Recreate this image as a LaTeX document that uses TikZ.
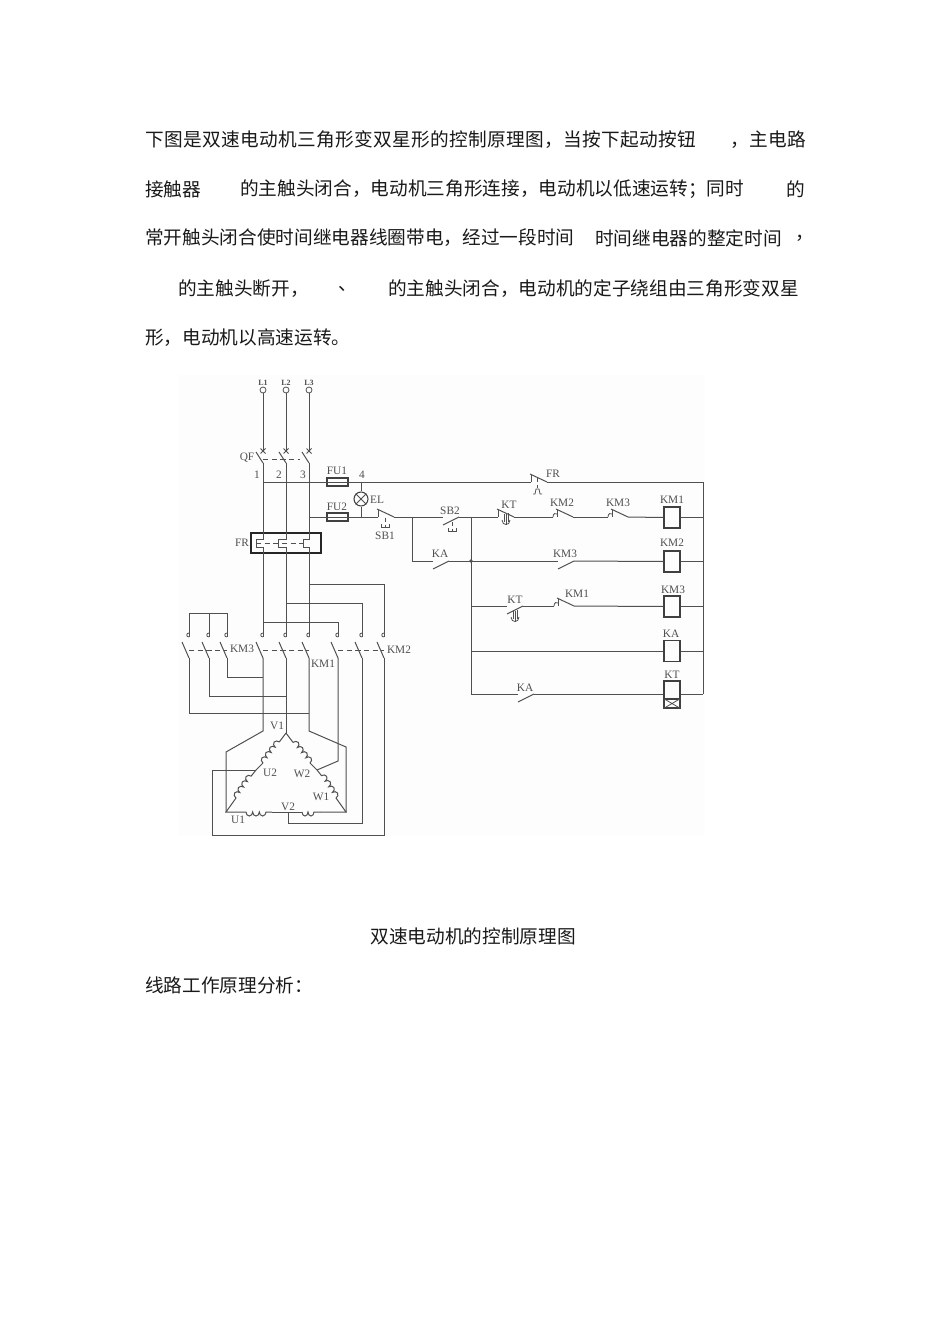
\documentclass[tikz,border=0pt]{standalone}
\usepackage{fontspec}
\setmainfont{Liberation Serif}
\newfontfamily\cjk{Noto Sans CJK SC}
\newfontfamily\cjkwide[LetterSpace=1.9]{Noto Sans CJK SC}
\usepackage{tikz}
\usetikzlibrary{calc,decorations.pathmorphing}
\definecolor{inkgray}{HTML}{505050}
\tikzstyle{para} = [anchor=west, inner sep=0pt, text=black!90, font=\cjk\fontsize{14pt}{14pt}\selectfont]
\tikzstyle{parawide} = [para, font=\cjkwide\fontsize{14pt}{14pt}\selectfont]
\tikzstyle{wire} = [line width=0.75pt, draw=inkgray]
\tikzstyle{thin wire} = [line width=0.6pt, draw=inkgray]
\tikzstyle{link} = [line width=0.6pt, draw=inkgray, dash pattern=on 4pt off 2.5pt]
\tikzstyle{winding} = [wire, decorate, decoration={bumps, segment length=10pt, amplitude=3pt}]
\tikzstyle{tag} = [inner sep=0pt, text=inkgray, font=\fontsize{8.5pt}{8.5pt}\selectfont]
\tikzstyle{small tag} = [tag, font=\bfseries\fontsize{6pt}{6pt}\selectfont]
\tikzstyle{terminal} = [circle, draw=inkgray, line width=0.6pt, inner sep=0pt, minimum size=4.5pt]
\tikzstyle{relay} = [rectangle, draw=black!75, line width=0.8pt, inner sep=0pt, minimum width=12pt, minimum height=15.75pt]
\tikzstyle{fuse} = [rectangle, draw=black!75, line width=0.8pt, inner sep=0pt, minimum width=15.75pt, minimum height=6pt]
% normally open contact, wire ends at a and b
\newcommand{\nocontact}[3]{
    \coordinate (#1-a) at (#2,#3);
    \coordinate (#1-b) at (#2+16,#3);
    \draw [wire] (#2,#3+8) -- (#1-b);
}
% normally closed contact
\newcommand{\nccontact}[3]{
    \coordinate (#1-a) at (#2,#3);
    \coordinate (#1-b) at (#2+16,#3);
    \draw [wire] (#1-a) -- (#2,#3-7);
    \draw [wire] (#2-1,#3-8) -- (#1-b);
}
% the small hook in front of an auxiliary contact
\newcommand{\hook}[3]{
    \coordinate (#1-h) at (#2-4,#3);
    \draw [thin wire] (#1-h) .. controls (#2-4,#3-4) and (#2-1,#3-4) .. (#2,#3-3);
}
% delay rod under a contact of the time relay
\newcommand{\delayrod}[2]{
    \draw [thin wire] (#1-2,#2) -- (#1-2,#2+8) (#1+2,#2-1) -- (#1+2,#2+8) (#1,#2) -- (#1,#2+11);
    \draw [thin wire] (#1-4,#2+6) .. controls (#1-4,#2+12) and (#1+4,#2+12) .. (#1+4,#2+6);
}
% push button foot
\newcommand{\pushfoot}[2]{
    \draw [thin wire, densely dashed] (#1,#2-6) -- (#1,#2+3);
    \draw [thin wire] (#1-4,#2) -- (#1-4,#2+3) -- (#1+4,#2+3) -- (#1+4,#2);
}

\begin{document}
\begin{tikzpicture}[x=0.75pt,y=-0.75pt]
    \useasboundingbox (0,0) rectangle (950,1344);
    \fill [black!0.8] (178,375) rectangle (705,836);

    % text
    \node (line1) [parawide] at (145,139.5) {下图是双速电动机三角形变双星形的控制原理图，当按下起动按钮};
    \node (line1b) [parawide] at (730,139.5) {，主电路};
    \node (line2) [para] at (145,189) {接触器};
    \node (line2b) [para] at (240,189) {的主触头闭合，电动机三角形连接，电动机以低速运转；同时};
    \node (line2c) [para] at (786,189) {的};
    \node (line3) [para] at (145,238) {常开触头闭合使时间继电器线圈带电，经过一段时间};
    \node (line3b) [para] at (595,238) {时间继电器的整定时间};
    \node (line3c) [para] at (795,238) {，};
    \node (line4) [para] at (178,288.5) {的主触头断开，};
    \node (line4b) [para] at (338,288.5) {、};
    \node (line4c) [para] at (388,288.5) {的主触头闭合，电动机的定子绕组由三角形变双星};
    \node (line5) [para] at (145,338) {形，电动机以高速运转。};
    \node (caption) [para, anchor=center] at (473,936) {双速电动机的控制原理图};
    \node (line6) [para] at (145,985) {线路工作原理分析：};

    % supply and breaker
    \foreach \n/\lab/\x in {l1/L1/263,l2/L2/286,l3/L3/309} {
        \node (\n) [terminal] at (\x,390) {};
        \node (\n-tag) [small tag] at (\x,383) {\lab};
        \coordinate (\n-x) at (\x,451);
        \coordinate (\n-q) at (\x,463);
        \draw [wire] (\n) -- (\n-x);
        \draw [wire] (\x-7,452) -- (\n-q);
        \draw [thin wire] (\x-2.5,448.5) -- (\x+2.5,453.5) (\x-2.5,453.5) -- (\x+2.5,448.5);
    }
    \draw [link] (263,459) -- (300,459);
    \node (qf) [tag] at (247,458) {QF};
    \node (n1) [tag] at (257,475) {1};
    \node (n2) [tag] at (279,475) {2};
    \node (n3) [tag] at (303,475) {3};
    \node (n4) [tag] at (362,475) {4};

    % overload relay
    \node (frbox) [rectangle, draw=black!85, line width=0.9pt, inner sep=0pt, minimum width=52.5pt, minimum height=15pt] at (286,543) {};
    \node (frtag) [tag] at (242,543) {FR};
    \draw [link] (256,543) -- (303,543);

    % main poles
    \coordinate (dash row) at (0,650);
    \coordinate (star row) at (0,613);
    \foreach \n/\x in {pa/189,pb/209,pc/227,pd/263,pe/286,pf/309,pg/338,ph/362,pi/384} {
        \coordinate (\n-t) at (\x,637);
        \coordinate (\n-b) at (\x,658);
        \draw [wire] (\x-7,642) -- (\n-b);
        \draw [thin wire] (\n-t) .. controls (\x-3,637) and (\x-3,633) .. (\x,633);
    }
    \draw [link] (pa-t |- dash row) -- (pc-t |- dash row);
    \draw [link] (pd-t |- dash row) -- (pf-t |- dash row);
    \draw [link] (pg-t |- dash row) -- (pi-t |- dash row);
    \node (km3tag) [tag] at (242,649) {KM3};
    \node (km1tag) [tag] at (323,664) {KM1};
    \node (km2tag) [tag] at (399,650) {KM2};

    % wires through the relay to the poles
    \draw [wire] (l1-q) -- (263,539) -- (256,539) -- (256,547) -- (263,547) -- (pd-t);
    \draw [wire] (l2-q) -- (286,539) -- (278,539) -- (278,547) -- (286,547) -- (pe-t);
    \draw [wire] (l3-q) -- (309,539) -- (303,539) -- (303,547) -- (309,547) -- (pf-t);
    \draw [wire] (309,584) -| (pi-t);
    \draw [wire] (286,603) -| (ph-t);
    \draw [wire] (263,622) -| (pg-t);
    \draw [wire] (pa-t) |- (pc-t |- star row) -- (pc-t);
    \draw [wire] (pb-t) -- (pb-t |- star row);

    % motor
    \coordinate (v1) at (286,733);
    \coordinate (u1) at (226,812);
    \coordinate (w1) at (346,812);
    \coordinate (u2) at (256,770);
    \coordinate (w2) at (317,770);
    \coordinate (v2) at (288,812);
    \draw [wire] (v1) -- (280,741) (263,763) -- (u2) -- (252,775) (236,798) -- (u1) -- (246,812);
    \draw [wire] (v1) -- (292,741) (310,763) -- (w2) -- (321,775) (336,798) -- (w1) -- (320,812);
    \draw [wire] (272,812) -- (302,812);
    \draw [winding] (263,763) -- (280,741);
    \draw [winding] (236,798) -- (252,775);
    \draw [winding, decoration={mirror}] (310,763) -- (292,741);
    \draw [winding, decoration={mirror}] (336,798) -- (321,775);
    \draw [winding, decoration={mirror}] (246,812) -- (272,812);
    \draw [winding, decoration={mirror, segment length=9pt}] (302,812) -- (320,812);
    \draw [wire] (pd-b) -- (263,731) -- (226,752) -- (u1);
    \draw [wire] (pe-b) -- (v1);
    \draw [wire] (pf-b) -- (309,731) -- (346,747) -- (w1);
    \draw [wire] (pg-b) -- (338,761) -- (w2);
    \draw [wire] (ph-b) |- (288,823) -- (v2);
    \draw [wire] (pi-b) |- (212,835) |- (u2);
    \draw [wire] (pc-b) |- (263,677);
    \draw [wire] (pb-b) |- (286,696);
    \draw [wire] (pa-b) |- (309,713);
    \node (v1tag) [tag] at (277,726) {V1};
    \node (u2tag) [tag] at (270,773) {U2};
    \node (w2tag) [tag] at (302,774) {W2};
    \node (w1tag) [tag] at (321,797) {W1};
    \node (u1tag) [tag] at (238,820) {U1};
    \node (v2tag) [tag] at (288,807) {V2};

    % fuses and lamp
    \coordinate (bus top) at (703,482);
    \coordinate (bus bottom) at (703,694);
    \node (fu1) [fuse] at (337.5,482) {};
    \node (fu2) [fuse] at (337.5,517) {};
    \node (fu1tag) [tag] at (337,471) {FU1};
    \node (fu2tag) [tag] at (337,507) {FU2};
    \node (el) [circle, draw=black!75, line width=0.8pt, inner sep=0pt, minimum size=10.5pt] at (361,499) {};
    \draw [thin wire] (el.45) -- (el.225) (el.135) -- (el.315);
    \node (eltag) [tag] at (377,500) {EL};
    \draw [wire] (361,482) -- (el) (el) -- (361,517);

    % contacts
    \nccontact{fr}{531}{482}
    \nccontact{sb1}{378}{517}
    \nocontact{sb2}{443}{517}
    \nocontact{ka1}{433}{561}
    \nccontact{kt1}{498}{517}
    \nccontact{km2c}{557}{517}
    \nccontact{km3c}{612}{517}
    \nocontact{km3d}{558}{561}
    \nocontact{kt2}{507}{606}
    \nccontact{km1c}{558}{606}
    \nocontact{ka2}{518}{694}
    \hook{km2c}{557}{517}
    \hook{km3c}{612}{517}
    \hook{km1c}{558}{606}
    \delayrod{506}{514}
    \delayrod{515}{611}
    \pushfoot{385}{524}
    \pushfoot{452}{528}
    \draw [thin wire, densely dashed] (537,478) -- (537,488);
    \draw [thin wire] (533,494) -- (535,494) -- (536,489) -- (539,489) -- (540,494) -- (542,494);
    \node (frctag) [tag] at (553,474) {FR};
    \node (sb1tag) [tag] at (385,536) {SB1};
    \node (sb2tag) [tag] at (450,511) {SB2};
    \node (ka1tag) [tag] at (440,554) {KA};
    \node (kt1tag) [tag] at (509,505) {KT};
    \node (km2ctag) [tag] at (562,503) {KM2};
    \node (km3ctag) [tag] at (618,503) {KM3};
    \node (km3dtag) [tag] at (565,554) {KM3};
    \node (kt2tag) [tag] at (515,600) {KT};
    \node (km1ctag) [tag] at (577,594) {KM1};
    \node (ka2tag) [tag] at (525,688) {KA};

    % coils
    \node (km1) [relay] at (672,517.5) {};
    \node (km2) [relay] at (672,561.5) {};
    \node (km3) [relay] at (672,606.5) {};
    \node (ka) [relay] at (672,651) {};
    \node (kt) [relay, minimum height=13.5pt] at (672,690) {};
    \node (ktx) [relay, minimum height=6.75pt] at (672,703.5) {};
    \draw [thin wire] (ktx.north west) -- (ktx.south east) (ktx.south west) -- (ktx.north east);
    \node (km1top) [tag] at (672,500) {KM1};
    \node (km2top) [tag] at (672,543) {KM2};
    \node (km3top) [tag] at (673,590) {KM3};
    \node (katop) [tag] at (671,634) {KA};
    \node (kttop) [tag] at (672,675) {KT};

    % control wiring
    \draw [wire] (263,482) -- (fr-a);
    \draw [wire] (fr-b) -- (bus top) -- (bus bottom);
    \draw [wire] (309,517) -- (sb1-a);
    \draw [wire] (sb1-b) -- (sb2-a);
    \draw [wire] (412,517) |- (ka1-a);
    \draw [wire] (sb2-b) -- (kt1-a);
    \draw [wire] (471,517) -- (471,694) -- (ka2-a);
    \draw [wire] (ka2-b) -- (kt.west |- bus bottom);
    \draw [wire] (kt.east |- bus bottom) -- (bus bottom);
    \draw [wire] (kt1-b) -- (km2c-h);
    \draw [wire] (km2c-b) -- (km3c-h);
    \draw [wire] (km3c-b) -- (km1.west);
    \draw [wire] (km1.east) -- (km1.east -| bus top);
    \draw [wire] (ka1-b) -- (km3d-a);
    \draw [wire] (km3d-b) -- (km2.west);
    \draw [wire] (km2.east) -- (km2.east -| bus top);
    \draw [wire] (471,606) -- (kt2-a);
    \draw [wire] (kt2-b) -- (km1c-h);
    \draw [wire] (km1c-b) -- (km3.west);
    \draw [wire] (km3.east) -- (km3.east -| bus top);
    \draw [wire] (471,651) -- (ka.west);
    \draw [wire] (ka.east) -- (ka.east -| bus top);
    \fill [inkgray] (471,561) circle [radius=1.4pt];
\end{tikzpicture}
\end{document}
